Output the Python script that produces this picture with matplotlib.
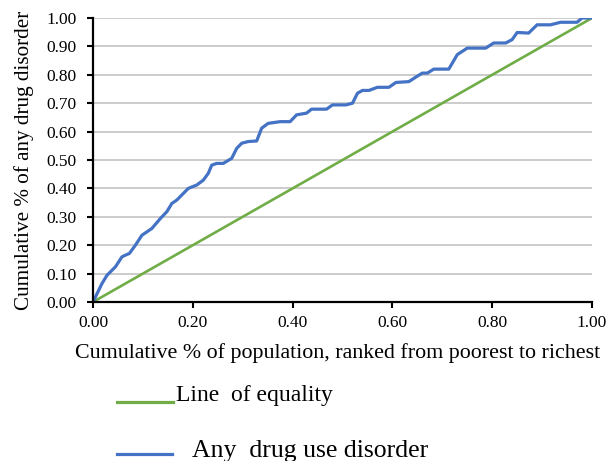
import matplotlib
matplotlib.use('Agg')
import matplotlib.pyplot as plt
from matplotlib.lines import Line2D

# 数据：集中曲线 (concentration curve)
pop_share = [0.0, 0.018, 0.028, 0.045, 0.058, 0.065, 0.073, 0.085, 0.098, 0.118,
             0.135, 0.148, 0.158, 0.168, 0.191, 0.208, 0.221, 0.231, 0.238, 0.248,
             0.261, 0.278, 0.288, 0.298, 0.311, 0.328, 0.338, 0.351, 0.375, 0.395,
             0.408, 0.428, 0.438, 0.468, 0.480, 0.507, 0.520, 0.530, 0.540, 0.553,
             0.570, 0.593, 0.607, 0.633, 0.647, 0.660, 0.670, 0.683, 0.713, 0.730,
             0.750, 0.787, 0.803, 0.827, 0.840, 0.850, 0.873, 0.890, 0.917, 0.937,
             0.970, 0.980, 1.0]
drug_share = [0.0, 0.065, 0.094, 0.124, 0.159, 0.165, 0.171, 0.200, 0.235, 0.259,
              0.294, 0.318, 0.347, 0.359, 0.400, 0.412, 0.429, 0.453, 0.482, 0.488,
              0.488, 0.506, 0.541, 0.559, 0.565, 0.567, 0.612, 0.629, 0.635, 0.635,
              0.659, 0.665, 0.679, 0.679, 0.694, 0.694, 0.700, 0.735, 0.745, 0.745,
              0.756, 0.756, 0.773, 0.776, 0.792, 0.806, 0.806, 0.820, 0.820, 0.871,
              0.894, 0.894, 0.912, 0.912, 0.924, 0.949, 0.947, 0.976, 0.976, 0.985,
              0.985, 1.0, 1.0]
equality = [0.0, 1.0]

x_ticks = [0.0, 0.2, 0.4, 0.6, 0.8, 1.0]
y_ticks = [0.0, 0.1, 0.2, 0.3, 0.4, 0.5, 0.6, 0.7, 0.8, 0.9, 1.0]

blue = '#4472C4'
green = '#70AD47'

plt.rcParams['font.family'] = ['Liberation Serif', 'DejaVu Serif']

W, H = 609, 461
fig = plt.figure(figsize=(W / 100, H / 100), dpi=100)
ax = fig.add_axes([93 / W, 1 - 302 / H, 499 / W, 284 / H])

ax.plot(equality, equality, color=green, lw=1.9, solid_capstyle='butt', zorder=3)
ax.plot(pop_share, drug_share, color=blue, lw=2.3, solid_joinstyle='round', zorder=4)

ax.set_xlim(0, 1)
ax.set_ylim(0, 1)
ax.set_xticks(x_ticks)
ax.set_yticks(y_ticks)
ax.set_xticklabels([f'{v:.2f}' for v in x_ticks], fontsize=12.5)
ax.set_yticklabels([f'{v:.2f}' for v in y_ticks], fontsize=12.5)
ax.tick_params(direction='out', length=4, width=1.5, color='black')
ax.tick_params(axis='x', pad=5.5)
ax.tick_params(axis='y', pad=8)

ax.grid(axis='y', color='#c4c4c4', lw=1.2)
ax.set_axisbelow(True)
for s in ['top', 'right']:
    ax.spines[s].set_visible(False)
for s in ['left', 'bottom']:
    ax.spines[s].set_linewidth(1.6)
    ax.spines[s].set_zorder(5)

ax.set_xlabel('Cumulative % of population, ranked from poorest to richest', fontsize=15.8, labelpad=11)
ax.xaxis.set_label_coords(0.49, -0.145)
ax.set_ylabel('Cumulative % of any drug disorder', fontsize=15.2, labelpad=9)

# 图例（手动放置）
fig.add_artist(Line2D([117 / W, 173 / W], [1 - 402 / H, 1 - 402 / H], color=green, lw=2.3,
                      transform=fig.transFigure))
fig.text(176 / W, 1 - 401.5 / H, 'Line  of equality', fontsize=17, va='baseline', ha='left')
fig.add_artist(Line2D([117 / W, 172 / W], [1 - 454 / H, 1 - 454 / H], color=blue, lw=2.3,
                      transform=fig.transFigure))
fig.text(192 / W, 1 - 457 / H, 'Any  drug use disorder', fontsize=18.5, va='baseline', ha='left')

plt.savefig('out.png', dpi=100)
